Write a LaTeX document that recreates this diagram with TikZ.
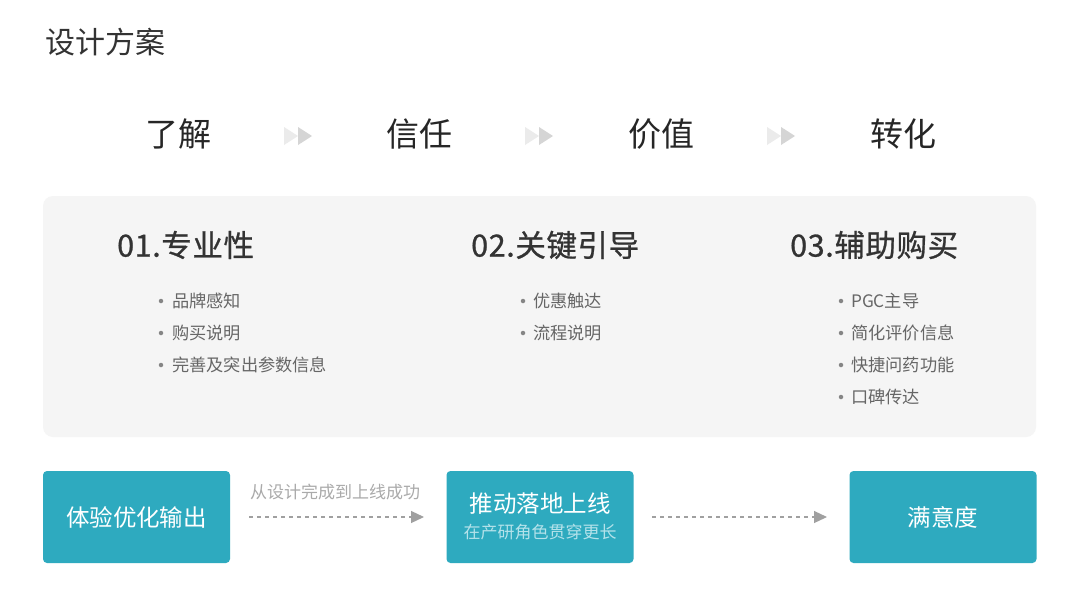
\documentclass[tikz,border=0pt]{standalone}
\usepackage{fontspec}
\setmainfont{Noto Sans CJK SC}
\newfontfamily\headf[FakeBold=0.8,LetterSpace=2]{Noto Sans CJK SC}
\usetikzlibrary{arrows.meta}
\definecolor{teal1}{HTML}{2EAABF}
\definecolor{panel}{HTML}{F5F5F5}
\definecolor{dark}{HTML}{333333}
\definecolor{bul}{HTML}{666666}
\definecolor{subt}{HTML}{B4E2EA}
\definecolor{arr}{HTML}{A0A0A0}
\definecolor{tri1}{HTML}{EBEBEB}
\definecolor{tri2}{HTML}{D5D5D5}
\newcommand{\fs}[1]{\fontsize{#1}{#1}\selectfont}
\tikzset{
  title/.style={text=dark, font=\fs{30}, inner sep=0pt},
  stage/.style={text=black!85, font=\fs{33}, inner sep=0pt},
  head/.style={text=dark, font=\headf\fs{30.5}, inner sep=0pt, anchor=west},
  item/.style={text=bul, font=\fs{17.2}, inner sep=0pt, anchor=west},
  dotb/.style={circle, fill=bul!80, inner sep=0pt, minimum size=4.5pt},
  tealbox/.style={fill=teal1, rounded corners=4pt, minimum width=187pt, minimum height=92pt, inner sep=0pt},
  boxtext/.style={text=white, font=\fs{23.5}, inner sep=0pt},
  subtext/.style={text=subt, font=\fs{17}, inner sep=0pt},
  note/.style={text=arr!90, font=\fs{17}, inner sep=0pt},
  dasharrow/.style={draw=arr, line width=1.2pt, dash pattern=on 4pt off 4pt, -{Triangle[length=13pt,width=12pt,fill=arr]}},
}
\begin{document}
\begin{tikzpicture}[x=1pt,y=-1pt]
\useasboundingbox (0,0) rectangle (1080,611);
\fill[white] (0,0) rectangle (1080,611);
\node[title, anchor=west] (t) at (45,42) {设计方案};
% stages
\node[stage] (s1) at (178,134) {了解};
\node[stage] (s2) at (419,134) {信任};
\node[stage] (s3) at (661,134) {价值};
\node[stage] (s4) at (903,134) {转化};
\foreach \cx in {298,539,781}{
  \fill[tri1] (\cx-14,127) -- (\cx,136) -- (\cx-14,145) -- cycle;
  \fill[tri2] (\cx,127) -- (\cx+14,136) -- (\cx,145) -- cycle;
}
% panel
\fill[panel, rounded corners=10pt] (43,196) rectangle (1036,437);
\node[head] (h1) at (117,245) {01.专业性};
\node[head] (h2) at (471,245) {02.关键引导};
\node[head] (h3) at (790,245) {03.辅助购买};
\foreach \y/\t [count=\i] in {301/品牌感知,333/购买说明,365/完善及突出参数信息}{
  \node[dotb] (a\i) at (161,\y) {};
  \node[item] (at\i) at (172,\y) {\t};
}
\foreach \y/\t [count=\i] in {301/优惠触达,333/流程说明}{
  \node[dotb] (b\i) at (523,\y) {};
  \node[item] (bt\i) at (533,\y) {\t};
}
\foreach \y/\t [count=\i] in {301/PGC主导,333/简化评价信息,365/快捷问药功能,397/口碑传达}{
  \node[dotb] (c\i) at (841,\y) {};
  \node[item] (ct\i) at (851,\y) {\t};
}
% bottom boxes
\node[tealbox] (B1) at (136.5,517) {};
\node[boxtext] at (B1.center) {体验优化输出};
\node[tealbox] (B2) at (540,517) {};
\node[boxtext] at (540,504) {推动落地上线};
\node[subtext] at (540,532) {在产研角色贯穿更长};
\node[tealbox] (B3) at (943,517) {};
\node[boxtext] at (B3.center) {满意度};
\coordinate (a1s) at (249,517);
\coordinate (a1e) at (424,517);
\coordinate (a2s) at (652,517);
\coordinate (a2e) at (827,517);
\draw[dasharrow] (a1s) -- (a1e);
\draw[dasharrow] (a2s) -- (a2e);
\node[note] (n1) at (335,492) {从设计完成到上线成功};
\end{tikzpicture}
\end{document}
